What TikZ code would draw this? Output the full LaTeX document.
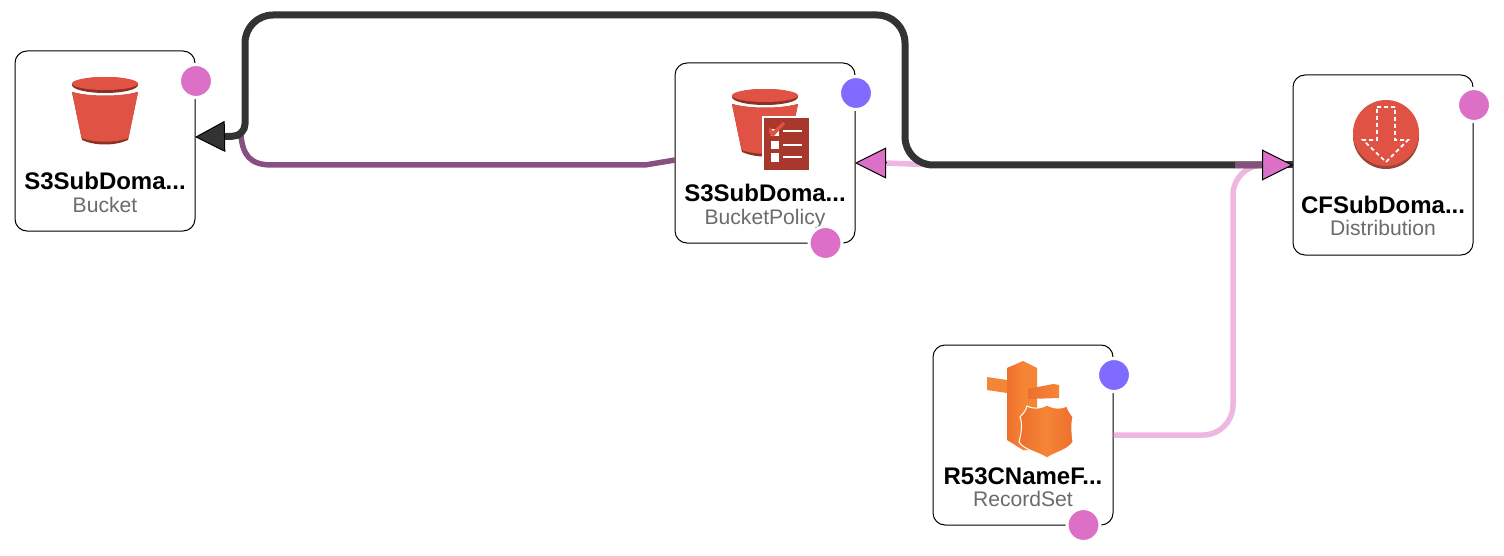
\documentclass[tikz,border=0pt]{standalone}
\usepackage{fontspec}
\setmainfont{Liberation Sans}
\usetikzlibrary{arrows.meta}
\definecolor{darkedge}{HTML}{333333}
\definecolor{pinkdot}{HTML}{DC70C6}
\definecolor{bluedot}{HTML}{7F6CFF}
\definecolor{purpleedge}{HTML}{885080}
\definecolor{s3red}{HTML}{E05243}
\definecolor{s3dark}{HTML}{8C3123}
\definecolor{policyred}{HTML}{A8382B}
\definecolor{r53light}{HTML}{F58536}
\definecolor{r53dark}{HTML}{EE6F2D}
\tikzset{
  resbox/.style={draw=black, fill=white, line width=1pt, rounded corners=12pt, minimum size=180pt, inner sep=0pt, outer sep=0pt},
  resname/.style={anchor=base, inner sep=0pt, font=\fontsize{24}{24}\selectfont\bfseries},
  restype/.style={anchor=base, inner sep=0pt, text=black!58, font=\fontsize{21.1}{21}\selectfont},
  pinkbadge/.style={circle, fill=pinkdot, draw=white, line width=3pt, minimum size=33pt, inner sep=0pt},
  bluebadge/.style={pinkbadge, fill=bluedot},
  darkline/.style={draw=darkedge, line width=7pt},
  purpleline/.style={draw=purpleedge, line width=5.5pt},
  pinkline/.style={draw=pinkdot, draw opacity=0.5, line width=5.5pt},
  pinktip/.style={-{Triangle[length=31pt, width=31pt, line width=1pt, fill=pinkdot, color=black]}, line width=1pt},
  bucketicon/.pic={
    \fill[s3dark] (-33,-25) arc[x radius=33, y radius=8, start angle=180, end angle=540];
    \fill[s3red] (-33,-26.5) arc[x radius=33, y radius=6.5, start angle=180, end angle=540];
    \fill[s3dark] (-33,-18) .. controls (-15,-13) and (15,-13) .. (33,-18) -- (23,30) .. controls (10,36) and (-10,36) .. (-23,30) -- cycle;
    \fill[s3red] (-33,-18) .. controls (-15,-13) and (15,-13) .. (33,-18) -- (23.5,28) .. controls (10,33) and (-10,33) .. (-23.5,28) -- cycle;
  }
}
\begin{document}
\begin{tikzpicture}[x=1pt, y=-1pt]
  \useasboundingbox (0,0) rectangle (1504,556);
  \node[resbox] (bucket) at (105,141) {};
  \node[resbox] (policy) at (765,153) {};
  \node[resbox] (cf) at (1383,165) {};
  \node[resbox] (recordset) at (1023,435) {};
  % icons
  \pic at (105,110) {bucketicon};
  \pic at (765,122) {bucketicon};
  \fill[white] (762,116) rectangle (811,172);
  \fill[policyred] (764,118) rectangle (809,170);
  \fill[white] (771,129) rectangle (779,136);
  \fill[s3red] (769,127) -- (773,131) -- (783,122) -- (785,124) -- (773,137) -- (769,133) -- cycle;
  \fill[white] (771,141) rectangle (779,149);
  \fill[white] (771,153) rectangle (779,162);
  \fill[white] (783,130.5) rectangle (802,132.5);
  \fill[white] (783,144) rectangle (802,146);
  \fill[white] (783,156.5) rectangle (802,158.5);
  \fill[s3dark!90] (1386,136) circle[radius=33];
  \fill[s3red] (1386,133) circle[radius=33];
  \draw[white, line width=1.8pt, dash pattern=on 4pt off 3pt] (1377,107) -- (1395,107) -- (1395,140) -- (1408,140) -- (1386,162) -- (1363,140) -- (1377,140) -- cycle;
  \shade[left color=r53dark, right color=r53light] (1007,368) -- (1023,361) -- (1023,450) -- (1007,440) -- cycle;
  \fill[r53light] (1023,361) -- (1037,368) -- (1037,450) -- (1023,450) -- cycle;
  \fill[r53light] (987,377) -- (1007,380) -- (1007,393) -- (987,390) -- cycle;
  \shade[left color=r53dark, right color=r53light] (1028,389) -- (1053,384) -- (1059,385) -- (1059,398) -- (1028,399) -- cycle;
  \shade[left color=r53dark, right color=r53dark, middle color=r53light, draw=white, line width=1pt] (1020,417) .. controls (1024,413) and (1026,410) .. (1027,406) .. controls (1032,409) and (1040,409) .. (1047,405) .. controls (1054,409) and (1062,409) .. (1067,406) .. controls (1068,410) and (1070,413) .. (1073,417) .. controls (1071,424) and (1072,434) .. (1073,442) .. controls (1068,450) and (1056,452) .. (1047,458) .. controls (1038,452) and (1024,450) .. (1019,442) .. controls (1021,434) and (1023,424) .. (1020,417) -- cycle;
  % labels
  \node[resname] (bucketname) at ([yshift=-49pt]bucket.center) {S3SubDoma...};
  \node[restype] (buckettype) at ([yshift=-71pt]bucket.center) {Bucket};
  \node[resname] (policyname) at ([yshift=-49pt]policy.center) {S3SubDoma...};
  \node[restype] (policytype) at ([yshift=-71pt]policy.center) {BucketPolicy};
  \node[resname] (cfname) at ([yshift=-49pt]cf.center) {CFSubDoma...};
  \node[restype] (cftype) at ([yshift=-71pt]cf.center) {Distribution};
  \node[resname] (recordsetname) at ([yshift=-49pt]recordset.center) {R53CNameF...};
  \node[restype] (recordsettype) at ([yshift=-71pt]recordset.center) {RecordSet};
  % ports
  \coordinate (bucketport) at ([yshift=4pt]bucket.east);
  \coordinate (policyport) at ([yshift=-10pt]policy.east);
  \coordinate (policyout) at ([yshift=-7pt]policy.west);
  \coordinate (policytail) at ([xshift=31pt]policyport);
  \coordinate (cftail) at ([xshift=-30pt]cf.west);
  % connectors
  \draw[pinkline] (policytail) -- (935,165);
  \draw[purpleline] (policyout) -- (645,165) -- (272,165) .. controls (250,165) and (243,155) .. (241,136);
  \draw[pinkline, rounded corners=30pt] (recordset.east) -- (1233,435) -- (1233,165) -- (cftail);
  \draw[darkline] (cf.west) -- (1265,165);
  \draw[darkline, rounded corners=28pt] (1265,165) -- (905,165) -- (905,15) -- (245,15) -- (245,90);
  \draw[darkline, rounded corners=12pt, -{Triangle[length=30pt, width=31pt, line width=1pt, fill=darkedge, color=black]}] (245,90) -- (245,136) -- (bucketport);
  \draw[pinkline] (1235,165) -- (cftail);
  \draw[pinktip] (policytail) -- (policyport);
  \draw[pinktip] (cftail) -- (cf.west);
  % badges
  \node[pinkbadge] (bucketdot) at (bucket.north east) [xshift=1pt, yshift=-30pt] {};
  \node[bluebadge] (policydot) at (policy.north east) [xshift=1pt, yshift=-30pt] {};
  \node[pinkbadge] (policyref) at (policy.south east) [xshift=-29.5pt] {};
  \node[pinkbadge] (cfdot) at (cf.north east) [xshift=1pt, yshift=-30pt] {};
  \node[bluebadge] (recordsetdot) at (recordset.north east) [xshift=1pt, yshift=-30pt] {};
  \node[pinkbadge] (recordsetref) at (recordset.south east) [xshift=-29.5pt] {};
\end{tikzpicture}
\end{document}
